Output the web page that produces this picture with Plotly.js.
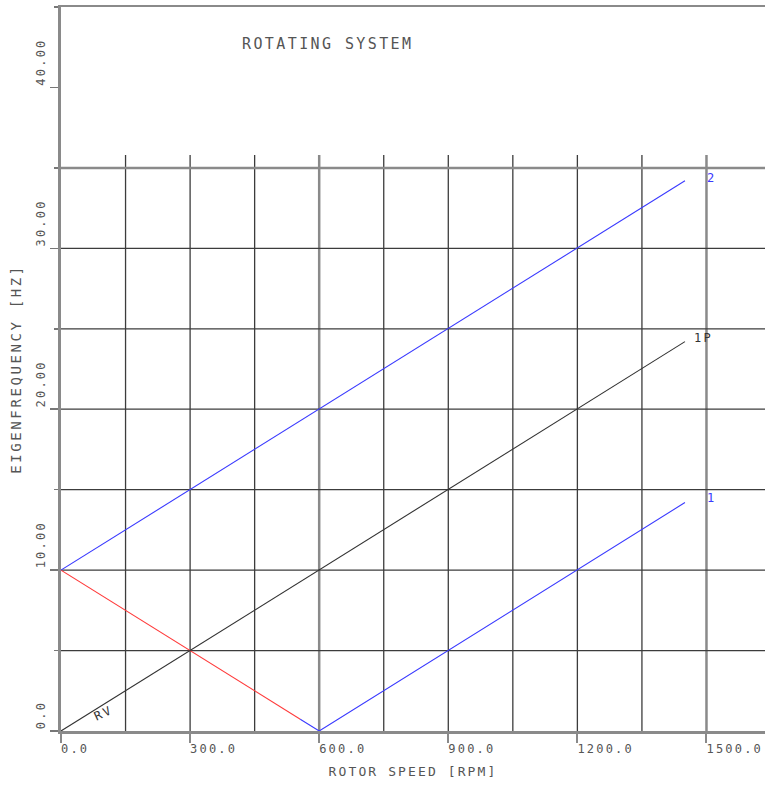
<!DOCTYPE html>
<html>
<head>
<meta charset="utf-8">
<script src="https://cdn.plot.ly/plotly-3.0.1.min.js"></script>
<style>
  html, body { margin: 0; padding: 0; background: #fff; }
  #chart { width: 765px; height: 787px; }
  .xtick text, .ytick text { letter-spacing: 2.2px; }
  .xtitle { letter-spacing: 2.1px; }
  .ytitle { letter-spacing: 2.6px; }
  .annotation-text { letter-spacing: 2.4px; }
</style>
</head>
<body>
<div id="chart"></div>
<script>
// ---- data ----
const mode2X = [0, 1450];
const mode2Y = [10, 34.2];
const order1PX = [0, 1450];
const order1PY = [0, 24.2];
const mode1X = [556, 600, 1450];
const mode1Y = [0.73, 0, 14.2];
const mode1RedX = [0, 556];
const mode1RedY = [10, 0.73];

const xTickVals = [0, 300, 600, 900, 1200, 1500];
const xTickText = ["0.0", "300.0", "600.0", "900.0", "1200.0", "1500.0"];
const yTickVals = [0, 10, 20, 30, 40];
const yTickText = ["0.0", "10.00", "20.00", "30.00", "40.00"];
const gridX = [150, 300, 450, 600, 750, 900, 1050, 1200, 1350, 1500];
const gridXHeavy = [600, 1500];
const gridY = [5, 10, 15, 20, 25, 30, 35];
const gridYHeavy = [35];
const gridTopY = 35.8;

const curveLabels = [
  {text: "2", x: 1497, y: 34.4, color: "#3a3aff"},
  {text: "1P", x: 1466, y: 24.4, color: "#333"},
  {text: "1", x: 1497, y: 14.5, color: "#3a3aff"},
  {text: "RV", x: 66, y: 1.1, color: "#333"}
];

const X_MAX = 1636, Y_MAX = 45;
const nb = "\u00a0";
const prePad = (s, n) => nb.repeat(n) + s;

const mono = "DejaVu Sans Mono, Liberation Mono, monospace";

const traces = [
  {x: mode1RedX, y: mode1RedY, mode: "lines", line: {color: "#ff3b3b", width: 1.1}, hoverinfo: "skip"},
  {x: mode2X, y: mode2Y, mode: "lines", line: {color: "#3a3aff", width: 1.1}, hoverinfo: "skip"},
  {x: order1PX, y: order1PY, mode: "lines", line: {color: "#333", width: 1.1}, hoverinfo: "skip"},
  {x: mode1X, y: mode1Y, mode: "lines", line: {color: "#3a3aff", width: 1.1}, hoverinfo: "skip"}
];

const shapes = [];
gridX.forEach(v => {
  const heavy = gridXHeavy.includes(v);
  shapes.push({type: "line", xref: "x", yref: "y", x0: v, x1: v, y0: 0, y1: gridTopY,
    layer: "below", line: {color: heavy ? "#8a8a8a" : "#3c3c3c", width: heavy ? 2.5 : 1.3}});
});
gridY.forEach(v => {
  const heavy = gridYHeavy.includes(v);
  shapes.push({type: "line", xref: "x", yref: "y", x0: 0, x1: X_MAX, y0: v, y1: v,
    layer: "below", line: {color: heavy ? "#8a8a8a" : "#3c3c3c", width: heavy ? 2.5 : 1.3}});
});

const annotations = [
  {text: "ROTATING SYSTEM", xref: "paper", yref: "paper", x: 0.379, y: 0.949,
   showarrow: false, xanchor: "center", yanchor: "middle",
   font: {family: mono, size: 15, color: "#555"}}
];
curveLabels.forEach(l => annotations.push({
  text: l.text, x: l.x, y: l.y, xref: "x", yref: "y", showarrow: false,
  xanchor: "left", yanchor: "middle", textangle: l.text === "RV" ? -25 : 0,
  font: {family: mono, size: 12, color: l.color}
}));

const layout = {
  width: 765, height: 787,
  margin: {l: 61, r: 0, t: 7, b: 56, pad: 0},
  paper_bgcolor: "#fff", plot_bgcolor: "#fff",
  showlegend: false,
  xaxis: {
    range: [0, X_MAX], showgrid: false, zeroline: false,
    showline: true, linecolor: "#8a8a8a", linewidth: 2.5, mirror: true,
    ticks: "outside", ticklen: 9, tickcolor: "#8a8a8a", tickwidth: 2,
    tickvals: xTickVals, ticktext: xTickText.map(s => prePad(s, s.length)),
    ticklabelstandoff: -4,
    tickfont: {family: mono, size: 12, color: "#555"},
    title: {text: "ROTOR SPEED [RPM]", font: {family: mono, size: 13, color: "#555"}, standoff: 12}
  },
  yaxis: {
    range: [0, Y_MAX], showgrid: false, zeroline: false,
    showline: true, linecolor: "#8a8a8a", linewidth: 3,
    ticks: "outside", ticklen: 8, tickcolor: "#777", tickwidth: 1.5,
    tickvals: yTickVals, ticktext: yTickText.map(s => prePad(s, s.length)),
    tickangle: -90,
    minor: {ticks: "outside", ticklen: 4, dtick: 5, tick0: 0, tickcolor: "#777", tickwidth: 1.5},
    tickfont: {family: mono, size: 12, color: "#555"},
    title: {text: "EIGENFREQUENCY [HZ]", font: {family: mono, size: 14, color: "#555"}, standoff: 10}
  },
  shapes: shapes,
  annotations: annotations
};

Plotly.newPlot("chart", traces, layout, {staticPlot: true, displayModeBar: false});
</script>
</body>
</html>
